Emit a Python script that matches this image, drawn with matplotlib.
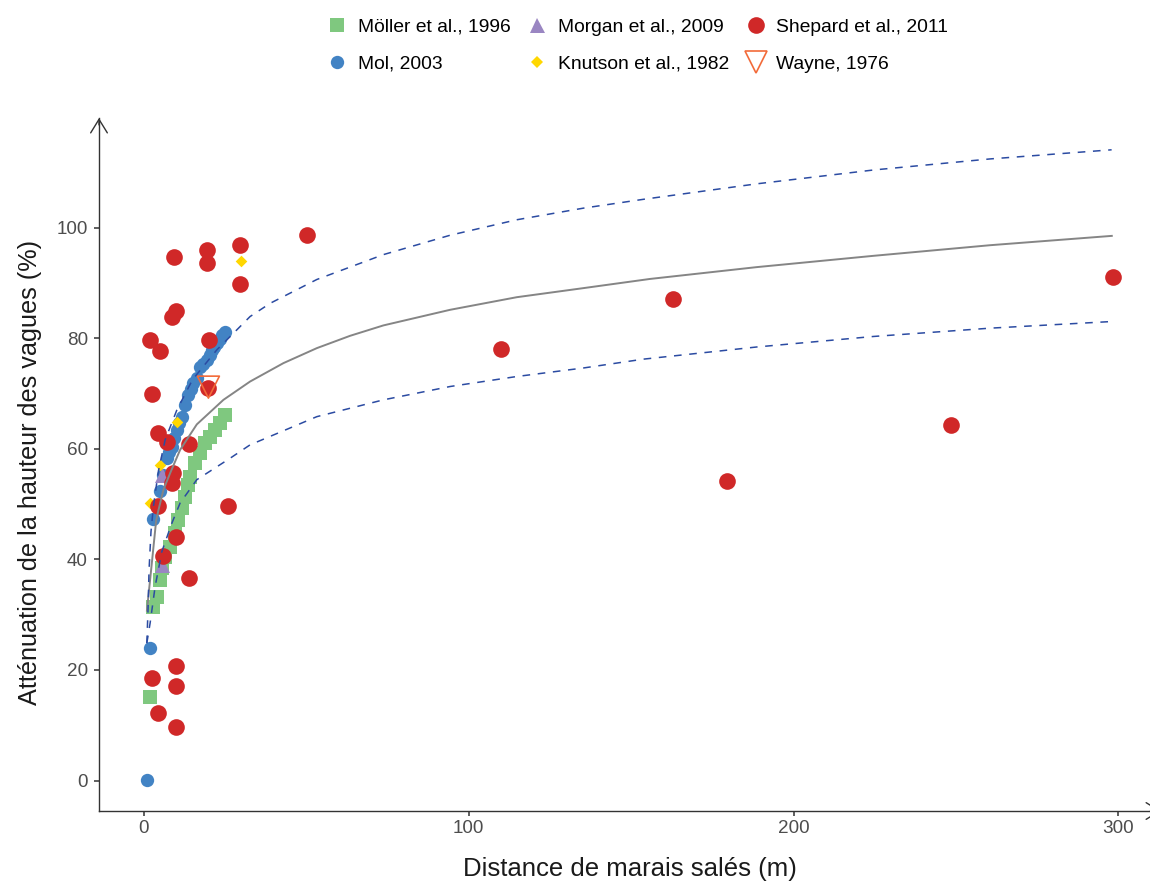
import matplotlib
matplotlib.use("Agg")
import matplotlib.pyplot as plt
from matplotlib.lines import Line2D

plt.rcParams['font.family'] = ['Liberation Sans', 'DejaVu Sans']

# ---------------- data ----------------
moller_x = [1.94, 2.95, 4.00, 5.02, 5.54, 6.56, 8.10, 9.63, 10.65, 11.70, 12.71, 13.73,
            14.25, 15.79, 17.33, 18.87, 20.41, 21.95, 23.48, 25.02]
moller_y = [15.08, 31.46, 33.27, 36.29, 38.41, 40.51, 42.31, 44.74, 47.14, 49.26, 51.36, 53.47,
            54.97, 57.40, 59.20, 61.01, 62.21, 63.42, 64.63, 66.15]

mol_x = [0.92, 1.94, 2.95, 5.02, 6.03, 7.08, 7.79, 8.62, 9.33, 10.16, 10.86, 11.70, 12.71,
         13.73, 14.40, 15.27, 16.25, 17.33, 18.25, 19.39, 20.41, 20.93, 21.64, 22.47, 23.33,
         24.01, 25.02]
mol_y = [0.13, 24.05, 47.27, 52.44, 55.28, 58.30, 59.44, 60.40, 61.97, 63.42, 64.68, 65.82,
         67.94, 69.75, 70.83, 71.86, 72.82, 74.86, 75.35, 76.07, 76.98, 77.88, 78.43, 79.10,
         79.87, 80.60, 81.19]

morgan_x = [5.54, 5.54]
morgan_y = [55.28, 39.01]

knutson_x = [1.94, 5.02, 10.16, 29.95]
knutson_y = [50.16, 57.09, 64.92, 94.03]

shepard_x = [1.94, 2.46, 5.02, 4.49, 7.08, 14.03, 9.11, 8.62, 4.49, 26.04, 9.94, 6.03, 14.03,
             9.94, 2.46, 9.94, 4.49, 9.94, 9.42, 19.39, 19.39, 29.64, 29.64, 9.94, 8.62, 20.10,
             19.88, 50.17, 109.88, 162.84, 179.53, 248.57, 298.25]
shepard_y = [79.70, 69.93, 77.70, 62.82, 61.30, 60.83, 55.59, 53.78, 49.67, 49.67, 44.12, 40.63,
             36.60, 20.74, 18.63, 17.18, 12.30, 9.66, 94.65, 96.02, 93.56, 96.87, 89.77, 84.99,
             83.80, 79.70, 71.01, 98.68, 78.01, 87.11, 54.19, 64.32, 91.05]

wayne_x = [19.88]
wayne_y = [71.14]

fit_x = [0.92, 2.46, 3.79, 4.5, 6.03, 8.1, 11.17, 16.3, 24.5, 32.7, 42.97, 53.25, 63.5, 73.75,
         94.27, 114.8, 135.3, 155.8, 188.7, 224.6, 260.5, 298.25]
fit_y = [30.56, 39.31, 47.0, 48.9, 52.57, 55.59, 59.80, 64.4, 68.84, 72.15, 75.48, 78.19,
         80.42, 82.3, 85.12, 87.4, 89.04, 90.7, 92.84, 94.88, 96.8, 98.50]

upper_x = [0.92, 1.3, 1.6, 2.2, 2.95, 4.5, 6.56, 10.16, 15.0, 22.5, 26.6, 32.7, 38.9, 53.25,
           73.75, 94.27, 114.8, 135.3, 153.8, 188.7, 224.6, 260.5, 297.9]
upper_y = [24.85, 31.0, 38.0, 45.0, 49.55, 56.0, 61.6, 67.0, 72.5, 77.9, 80.3, 83.9, 86.3, 90.6,
           95.1, 98.6, 101.4, 103.5, 105.1, 107.9, 110.4, 112.4, 114.05]

lower_x = [0.92, 1.94, 3.48, 5.54, 8.6, 11.17, 16.3, 26.6, 32.7, 53.25, 73.75, 94.27, 114.8,
           135.3, 153.8, 188.7, 224.6, 260.5, 297.9]
lower_y = [24.85, 28.5, 35.1, 41.4, 46.5, 50.2, 54.4, 58.3, 60.7, 65.8, 68.84, 71.25, 73.06,
           74.6, 76.2, 78.4, 80.3, 81.8, 83.0]

labels = ["Möller et al., 1996", "Mol, 2003", "Morgan et al., 2009",
          "Knutson et al., 1982", "Shepard et al., 2011", "Wayne, 1976"]
xticks = [0, 100, 200, 300]
yticks = [0, 20, 40, 60, 80, 100]

# ---------------- styles ----------------
c_green = '#7FC87F'
c_blue = '#4283C4'
c_purple = '#9A86C2'
c_yellow = '#FFD700'
c_red = '#D02828'
c_orange = '#F26B3A'
c_dash = '#2B4BA2'
c_fit = '#858585'
axis_col = '#333333'

W, H = 1150, 881
fig = plt.figure(figsize=(W / 100, H / 100), dpi=100)
ax = fig.add_axes([99 / W, (H - 811) / H, 1062 / W, 693 / H])

ax.scatter(moller_x, moller_y, marker='s', s=100, color=c_green, linewidths=0, zorder=2)
ax.scatter(mol_x, mol_y, marker='o', s=92, color=c_blue, linewidths=0, zorder=2.1)
ax.scatter(morgan_x, morgan_y, marker='^', s=117, color=c_purple, linewidths=0, zorder=2.2)
ax.scatter(knutson_x, knutson_y, marker='D', s=35, color=c_yellow, linewidths=0, zorder=2.3)
ax.scatter(shepard_x, shepard_y, marker='o', s=144, color=c_red, linewidths=0, zorder=2.4)
ax.scatter(wayne_x, wayne_y, marker='v', s=250, facecolors='none', edgecolors=c_orange,
           linewidths=1.2, zorder=2.5)

ax.plot(fit_x, fit_y, color=c_fit, lw=1.4, zorder=3, solid_capstyle='butt')
ax.plot(upper_x, upper_y, color=c_dash, lw=1.1, linestyle=(0, (5, 5)), zorder=3)
ax.plot(lower_x, lower_y, color=c_dash, lw=1.1, linestyle=(0, (5, 5)), zorder=3)

ax.set_xlim(-13.8, 313.1)
ax.set_ylim(-5.5, 119.8)
ax.set_xticks(xticks)
ax.set_yticks(yticks)
for s in ['top', 'right']:
    ax.spines[s].set_visible(False)
for s in ['left', 'bottom']:
    ax.spines[s].set_color(axis_col)
    ax.spines[s].set_linewidth(1.0)
ax.tick_params(axis='both', length=3.6, width=1.1, color=axis_col, labelcolor='#4D4D4D',
               labelsize=13.6)
ax.tick_params(axis='y', pad=4.5)
ax.tick_params(axis='x', pad=3.2)

arrow_kw = dict(arrowstyle='->,head_length=0.65,head_width=0.4', lw=1.0, color=axis_col,
                shrinkA=0, shrinkB=0, mutation_scale=15)
ax.annotate('', xy=(0, 1), xycoords='axes fraction', xytext=(0, 0.99),
            textcoords='axes fraction', arrowprops=arrow_kw)
ax.annotate('', xy=(1, 0), xycoords='axes fraction', xytext=(0.99, 0),
            textcoords='axes fraction', arrowprops=arrow_kw)

fig.text(30 / W, (H - 472) / H, "Atténuation de la hauteur des vagues (%)", rotation=90,
         ha='center', va='center', fontsize=18.2, color='#1A1A1A')
fig.text(630 / W, (H - 869) / H, "Distance de marais salés (m)", ha='center', va='center',
         fontsize=18.5, color='#1A1A1A')

handles = [
    Line2D([], [], ls='none', marker='s', markersize=10, color=c_green, markeredgewidth=0),
    Line2D([], [], ls='none', marker='o', markersize=9.6, color=c_blue, markeredgewidth=0),
    Line2D([], [], ls='none', marker='^', markersize=10.8, color=c_purple, markeredgewidth=0),
    Line2D([], [], ls='none', marker='D', markersize=5.9, color=c_yellow, markeredgewidth=0),
    Line2D([], [], ls='none', marker='o', markersize=12, color=c_red, markeredgewidth=0),
    Line2D([], [], ls='none', marker='v', markersize=15.8, markerfacecolor='none',
           markeredgecolor=c_orange, markeredgewidth=1.2),
]
fig.legend(handles, labels, loc='upper center', bbox_to_anchor=(638 / W, 1 - 18 / H),
           ncol=3, frameon=False, fontsize=13.9, handlelength=1.0, handletextpad=0.55,
           columnspacing=0.9, labelspacing=1.02, borderpad=0, borderaxespad=0)

fig.savefig('out.png', dpi=100)
